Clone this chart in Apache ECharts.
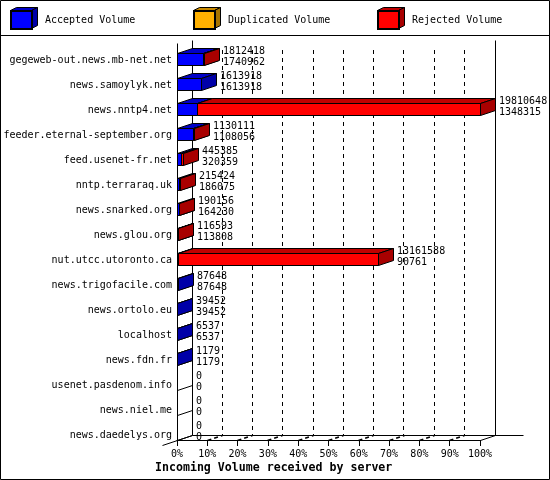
<!DOCTYPE html>
<html><head><meta charset="utf-8">
<style>html,body{margin:0;padding:0;background:#fff}#c{width:550px;height:480px}</style>
<script src="https://cdn.jsdelivr.net/npm/echarts@6/dist/echarts.min.js"></script>
</head><body><div id="c"></div>
<script>
var categories = ["gegeweb-out.news.mb-net.net","news.samoylyk.net","news.nntp4.net","feeder.eternal-september.org","feed.usenet-fr.net","nntp.terraraq.uk","news.snarked.org","news.glou.org","nut.utcc.utoronto.ca","news.trigofacile.com","news.ortolo.eu","localhost","news.fdn.fr","usenet.pasdenom.info","news.niel.me","news.daedelys.org"];
var totalVolume = [1812418,1613918,19810648,1130111,445385,215424,190156,116593,13161588,87648,39452,6537,1179,0,0,0];
var acceptedVolume = [1740962,1613918,1348315,1108056,320359,186075,164230,113808,90761,87648,39452,6537,1179,0,0,0];
var percentTicks = [0,10,20,30,40,50,60,70,80,90,100];
var legendNames = ["Accepted Volume","Duplicated Volume","Rejected Volume"];

var MONO = '"DejaVu Sans Mono"';
var DX = 15, DY = 5;
var maxV = Math.max.apply(null, totalVolume);
function pct(v){ return v / maxV * 100; }
var palette = {
  blue:{front:'#0000ff',top:'#0000c8',side:'#0000a8'},
  orange:{front:'#ffb000',top:'#c88a00',side:'#a87400'},
  red:{front:'#ff0000',top:'#c00000',side:'#a80000'}
};
var stroke = {stroke:'#000',lineWidth:1};
function snap(v){ return Math.floor(v) + 0.5; }

function box(x0,x1,yB,c){
  var h = 12;
  x0 = snap(x0); x1 = snap(x1); var y1 = Math.round(yB)+0.5, y0 = y1 - h;
  var kids = [];
  if (x1 > x0) kids.push({type:'rect',shape:{x:x0,y:y0,width:x1-x0,height:h},style:{fill:c.front,stroke:'#000',lineWidth:1}});
  kids.push({type:'polygon',shape:{points:[[x0,y0],[x0+DX,y0-DY],[x1+DX,y0-DY],[x1,y0]]},style:{fill:c.top,stroke:'#000',lineWidth:1}});
  kids.push({type:'polygon',shape:{points:[[x1,y0],[x1+DX,y0-DY],[x1+DX,y1-DY],[x1,y1]]},style:{fill:c.side,stroke:'#000',lineWidth:1}});
  return kids;
}
function bandBottom(api,i){ var p = api.coord([0,i]); return p[1] + api.size([0,1])[1]/2; }

function barRender(colorKey){
  return function(params, api){
    var i = api.value(2);
    var a = api.coord([api.value(0), i]), b = api.coord([api.value(1), i]);
    return {type:'group',children:box(a[0],b[0],bandBottom(api,i),palette[colorKey])};
  };
}
var acceptedData = [], rejectedData = [];
categories.forEach(function(c,i){
  if(acceptedVolume[i]>0) acceptedData.push([0,pct(acceptedVolume[i]),i]);
  if(totalVolume[i]>acceptedVolume[i]) rejectedData.push([pct(acceptedVolume[i]),pct(totalVolume[i]),i]);
});

var option = {
  animation:false,
  backgroundColor:'#fff',
  textStyle:{fontFamily:MONO},
  title:{text:'Incoming Volume received by server',left:155,top:462,padding:0,
    textStyle:{fontFamily:MONO,fontSize:11.6,fontWeight:'bold',color:'#000'}},
  legend:legendNames.map(function(n,i){
    return {data:[{name:n,icon:'rect'}],left:[10,193,377][i],top:10,padding:0,itemWidth:21,itemHeight:18,itemGap:0,
      textStyle:{fontFamily:MONO,fontSize:10,color:'#000',padding:[2,0,0,8]},selectedMode:false};
  }),
  grid:[
    {left:177,top:40,width:303,height:400,containLabel:false},
    {left:191.6,top:50,width:303,height:385,containLabel:false}
  ],
  xAxis:[
    {gridIndex:0,type:'value',min:0,max:100,interval:10,
     axisLine:{show:true,lineStyle:{color:'#000',width:1}},
     axisTick:{show:true,length:6,lineStyle:{color:'#000',width:1}},
     axisLabel:{show:true,formatter:'{value}%',color:'#000',fontFamily:MONO,fontSize:10,margin:9,hideOverlap:false},
     splitLine:{show:false}},
    {gridIndex:1,type:'value',min:0,max:100,interval:10,
     axisLine:{show:false},axisTick:{show:false},axisLabel:{show:false},
     splitLine:{show:true,showMinLine:false,showMaxLine:false,lineStyle:{color:'#000',width:1,type:[4,4]}}}
  ],
  yAxis:[
    {gridIndex:0,type:'category',inverse:true,data:categories,
     axisLine:{show:false},axisTick:{show:false},
     axisLabel:{color:'#000',fontFamily:MONO,fontSize:10,margin:5,interval:0,verticalAlign:'top',lineHeight:15},
     splitLine:{show:false}},
    {gridIndex:1,type:'category',data:categories,show:false}
  ],
  series:[
    {name:'frame',type:'custom',xAxisIndex:0,yAxisIndex:0,z:1,silent:true,
     data:categories.map(function(c,i){return [0,i];}),
     renderItem:function(p,api){
       var i = api.value(1), x = snap(api.coord([0,i])[0]), y = Math.round(bandBottom(api,i))+0.5;
       var kids = [{type:'line',shape:{x1:x,y1:y,x2:x+DX,y2:y-DY},style:stroke}];
       if (i === categories.length-1) kids.push({type:'line',shape:{x1:x-DX,y1:y+DY,x2:x,y2:y},style:stroke});
       return {type:'group',children:kids};
     }},
    {name:'floor',type:'custom',xAxisIndex:0,yAxisIndex:0,z:1,silent:true,
     data:percentTicks.map(function(t){return [t,categories.length-1];}),
     renderItem:function(p,api){
       var t = api.value(0), c = api.coord([t,api.value(1)]);
       var x = snap(c[0]), y = Math.round(bandBottom(api,api.value(1)))+0.5;
       return {type:'line',shape:{x1:x,y1:y,x2:x+DX,y2:y-DY},
         style:{stroke:'#000',lineWidth:t===0||t===100?1:1.6,lineDash:t===0||t===100?null:[4,3]}};
     }},
    {name:'back',type:'custom',xAxisIndex:0,yAxisIndex:0,z:1,silent:true,
     data:[[0,categories.length-1]],
     renderItem:function(p,api){
       var c = api.coord([0,api.value(1)]), e = api.coord([100,api.value(1)]);
       var yf = Math.round(bandBottom(api,api.value(1)))+0.5, yb = yf-DY, top = 40.5;
       var xf = snap(c[0]), xl = xf+DX, xr = snap(e[0])+DX;
       return {type:'group',children:[
         {type:'line',shape:{x1:xf,y1:top+3,x2:xf,y2:yf},style:stroke},
         {type:'line',shape:{x1:xl,y1:top,x2:xl,y2:yb},style:stroke},
         {type:'line',shape:{x1:xr,y1:top,x2:xr,y2:yb},style:stroke},
         {type:'line',shape:{x1:xl,y1:yb,x2:xr+28,y2:yb},style:stroke}
       ]};
     }},
    {name:legendNames[0],type:'custom',xAxisIndex:0,yAxisIndex:0,z:3,silent:true,
     itemStyle:{color:palette.blue.front,borderColor:'#000',borderWidth:1},
     encode:{x:[0,1],y:2},data:acceptedData,renderItem:barRender('blue')},
    {name:legendNames[1],type:'custom',xAxisIndex:0,yAxisIndex:0,z:3,silent:true,
     itemStyle:{color:palette.orange.front,borderColor:'#000',borderWidth:1},
     encode:{x:[0,1],y:2},data:[],renderItem:barRender('orange')},
    {name:legendNames[2],type:'custom',xAxisIndex:0,yAxisIndex:0,z:3,silent:true,
     itemStyle:{color:palette.red.front,borderColor:'#000',borderWidth:1},
     encode:{x:[0,1],y:2},data:rejectedData,renderItem:barRender('red')},
    {name:'values',type:'custom',xAxisIndex:0,yAxisIndex:0,z:4,silent:true,
     data:categories.map(function(c,i){return [pct(totalVolume[i]),i];}),
     renderItem:function(p,api){
       var i = api.value(1), c = api.coord([api.value(0),i]);
       var x = snap(c[0])+DX+3.5, y = Math.round(bandBottom(api,i));
       var font = '10px '+MONO;
       return {type:'group',children:[
         {type:'text',style:{x:x,y:y-14,text:String(totalVolume[i]),font:font,fill:'#000',textAlign:'left',textVerticalAlign:'middle'}},
         {type:'text',style:{x:x,y:y-3,text:String(acceptedVolume[i]),font:font,fill:'#000',textAlign:'left',textVerticalAlign:'middle'}}
       ]};
     }}
  ],
  graphic:[
    {type:'rect',z:0,shape:{x:0.5,y:0.5,width:549,height:479},style:{fill:null,stroke:'#000',lineWidth:1}},
    {type:'line',z:0,shape:{x1:0,y1:35.5,x2:550,y2:35.5},style:stroke}
  ].concat(['blue','orange','red'].map(function(k,i){
    var x=[10.5,193.5,377.5][i]+21, y0=10.5, y1=28.5, xl=x-21;
    return {type:'group',z:20,children:[
      {type:'polygon',shape:{points:[[xl,y0],[xl+6,y0-3],[x+6,y0-3],[x,y0]]},style:{fill:palette[k].top,stroke:'#000',lineWidth:1}},
      {type:'polygon',shape:{points:[[x,y0],[x+6,y0-3],[x+6,y1-3],[x,y1]]},style:{fill:palette[k].side,stroke:'#000',lineWidth:1}}
    ]};
  }))
};
var chart = echarts.init(document.getElementById('c'),null,{renderer:'canvas',width:550,height:480});
chart.setOption(option);
</script></body></html>
